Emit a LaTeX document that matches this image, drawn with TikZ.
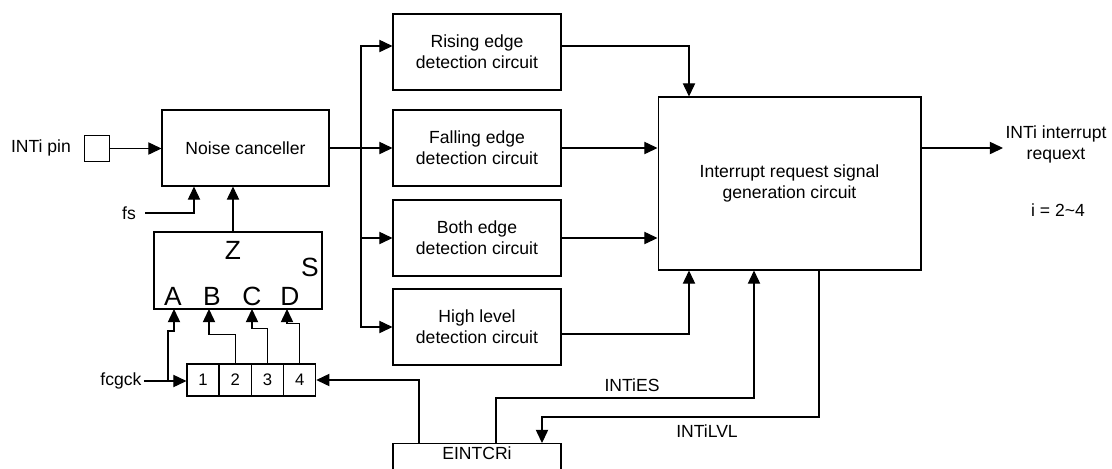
\documentclass[tikz,border=0pt]{standalone}
\usepackage{fontspec}
\setmainfont{Liberation Sans}
\usetikzlibrary{arrows.meta, calc, positioning}

\tikzset{
  blk/.style={draw, rectangle, inner sep=2pt, align=center,
              minimum width=3.36cm, minimum height=1.52cm},
  cell/.style={draw, minimum size=0.64cm, inner sep=0pt,
               font=\fontsize{9.5}{10}\selectfont},
  gross/.style={font=\fontsize{15}{18}\selectfont, inner sep=0pt},
  lbl/.style={inner sep=1pt, align=center}
}

\begin{document}
\begin{tikzpicture}[x=0.02cm, y=-0.02cm, line width=0.6pt,
    >={Triangle[length=7.5pt, width=7pt]},
    font=\fontsize{10}{12}\selectfont]
      \useasboundingbox (0,0) rectangle (1112,468);

      % Eingang
      \node[lbl] (pinlbl) at (41,148) {INTi pin};
      \node[draw, minimum size=0.51cm, inner sep=0pt] (pin) at (97,148.5) {};
      \node[blk, minimum width=3.34cm] (noise) at (245.5,148) {Noise canceller};
      \node[lbl, inner xsep=5pt] (fs) at (129,213) {fs};

      % Auswahl (Z, S, A--D)
      \node[blk, minimum height=1.54cm] (sel) at (238,270.5) {};
      \node[gross] (selZ) at (233,250) {Z};
      \node[gross] (selS) at (310,267) {S};
      \foreach \n/\x in {A/173, B/212, C/252, D/290} {
        \node[gross] (sel\n) at (\x,296) {\n};
      }
      \foreach \n/\x in {A/174, B/209, C/252, D/287} {
        \coordinate (in\n) at (\x,309);
      }

      % Register
      \foreach \i/\x in {1/203, 2/235.25, 3/267.5, 4/299.75} {
        \node[cell] (c\i) at (\x,380) {\i};
      }
      \node[lbl] (fcgck) at (121,381) {fcgck};
      \coordinate (jA) at (168,381);

      % Flankenerkennung
      \node[blk] (rise) at (477,52)  {Rising edge\\detection circuit};
      \node[blk] (fall) at (477,148) {Falling edge\\detection circuit};
      \node[blk] (both) at (477,238) {Both edge\\detection circuit};
      \node[blk] (high) at (477,327) {High level\\detection circuit};
      \coordinate (split) at (361,148);

      \node[blk, minimum width=5.26cm, minimum height=3.46cm] (irq) at (789.5,183.5)
        {Interrupt request signal\\generation circuit};
      \node[lbl] (out) at (1056,144) {INTi interrupt\\requext};
      \node[lbl] (range) at (1058,210) {i = 2\textasciitilde 4};

      \node[blk, anchor=north, text depth=1.2cm] (ctrl) at (477,443) {EINTCRi};
      \node[lbl] (es) at (632,385) {INTiES};
      \node[lbl] (lvl) at (707,431) {INTiLVL};

      % Kanten
      \draw[->] (pin.east) -- (pin.east -| noise.west);
      \draw[->] (fs.east) -| (noise.south -| 194,0);
      \draw[->] (selZ |- sel.north) -- (selZ |- noise.south);

      \draw[->] (fcgck.east) -- (fcgck.east -| c1.west);
      \draw[->] (jA) -- (168,331) -| (inA);
      \draw[->] (c2.north) -- ++(0,-29) -| (inB);
      \draw[->] (c3.north) -- ++(0,-35) -| (inC);
      \draw[->] (c4.north) -- ++(0,-40) -| (inD);

      \draw (noise.east) -- (split);
      \draw[->] (split) |- ($(rise.west)+(0,-6)$);
      \draw[->] (split) -- (fall.west);
      \draw[->] (split) |- (both.west);
      \draw[->] (split) |- (high.west);

      \draw[->] ($(rise.east)+(0,-6)$) -| (irq.north -| 689,0);
      \draw[->] (fall.east) -- (fall.east -| irq.west);
      \draw[->] (both.east) -- (both.east -| irq.west);
      \draw[->] ($(high.east)+(0,7)$) -| (irq.south -| 689,0);
      \draw[->] (irq.east |- 0,148) -- (1003,148);

      \draw[->] (ctrl.north -| 419,0) |- (c4.east);
      \draw[->] (ctrl.north -| 496,0) -- (496,398) -| (irq.south -| 754,0);
      \draw[->] (irq.south -| 819,0) -- (819,417) -| (ctrl.north -| 542,0);
\end{tikzpicture}
\end{document}
